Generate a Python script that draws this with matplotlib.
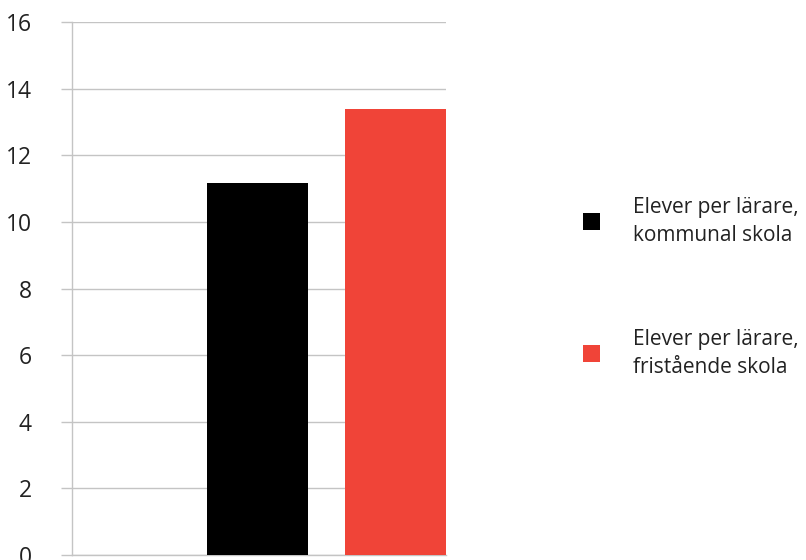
import matplotlib
matplotlib.use("Agg")
import matplotlib.pyplot as plt
from matplotlib.patches import Rectangle

series_labels = ["Elever per lärare,\nkommunal skola", "Elever per lärare,\nfristående skola"]
values = [11.17, 13.4]
colors = ["#000000", "#f04438"]
yticks = [0, 2, 4, 6, 8, 10, 12, 14, 16]

W, H = 806, 560
fig = plt.figure(figsize=(W / 100, H / 100), dpi=100)
ax = fig.add_axes([72 / W, (H - 555) / H, (446 - 72) / W, (555 - 22.3) / H])

positions = [0, 1]
ax.bar(positions, values, width=0.732, color=colors, zorder=3)
ax.set_xlim(-1.344, 1.366)
ax.set_ylim(0, 16)
ax.set_yticks(yticks)
ax.set_yticklabels([str(t) for t in yticks], fontsize=16.5, family="Open Sans", color="#222222")
ax.set_xticks([])
ax.grid(axis="y", color="#c4c4c4", linewidth=1, zorder=0)
for s in ["top", "right"]:
    ax.spines[s].set_visible(False)
ax.spines["left"].set_color("#c4c4c4")
ax.spines["bottom"].set_color("#c4c4c4")
ax.spines["left"].set_linewidth(1)
ax.spines["bottom"].set_linewidth(1)
ax.tick_params(axis="y", length=11 * 0.72, color="#c4c4c4", width=1, pad=21)

# legend
centers = [221.5, 353.5]
for lab, col, cy in zip(series_labels, colors, centers):
    fig.patches.append(Rectangle((583 / W, (H - cy - 8.5) / H), 17 / W, 17 / H,
                                 transform=fig.transFigure, facecolor=col, edgecolor="none"))
    fig.text(633 / W, (H - cy) / H, lab, fontsize=15, family="Open Sans", color="#222222",
             va="center", ha="left", linespacing=1.45)

fig.savefig("out.png", dpi=100)
